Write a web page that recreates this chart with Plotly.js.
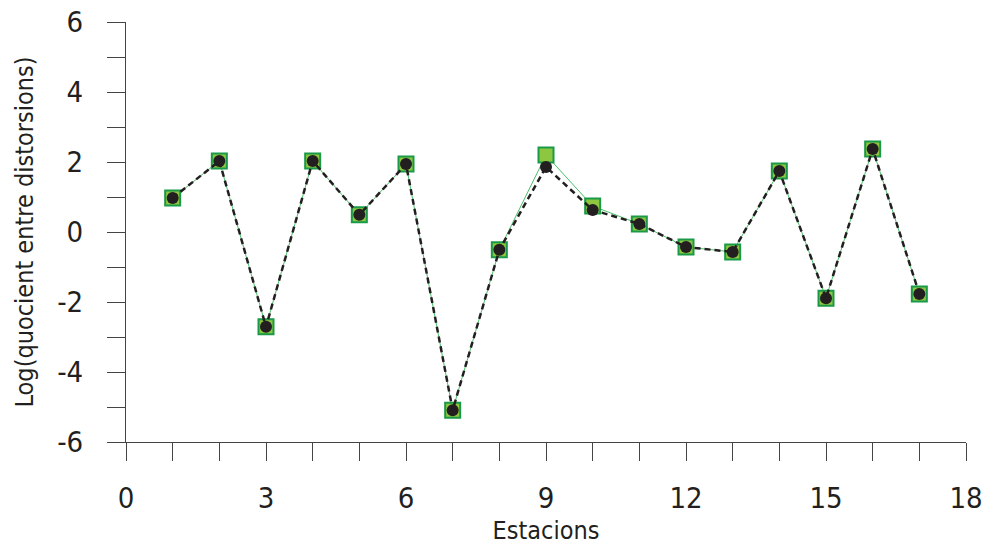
<!DOCTYPE html>
<html><head><meta charset="utf-8">
<script src="https://cdn.plot.ly/plotly-3.0.1.min.js"></script>
<style>html,body{margin:0;padding:0;background:#fff}#chart{width:985px;height:545px}</style>
</head><body><div id="chart"></div>
<script>
var estacions = [1,2,3,4,5,6,7,8,9,10,11,12,13,14,15,16,17];
var serieVerda = [0.97,2.03,-2.71,2.03,0.49,1.94,-5.09,-0.51,2.2,0.74,0.23,-0.43,-0.57,1.74,-1.89,2.37,-1.77];
var serieNegra = [0.97,2.03,-2.71,2.03,0.49,1.94,-5.09,-0.51,1.86,0.63,0.23,-0.43,-0.57,1.74,-1.89,2.37,-1.77];
var yTicks = [-6,-5,-4,-3,-2,-1,0,1,2,3,4,5,6];
var yLabels = ['-6','','-4','','-2','','0','','2','','4','','6'];
var xTicks = [0,1,2,3,4,5,6,7,8,9,10,11,12,13,14,15,16,17,18];
var xLabels = ['0','','','3','','','6','','','9','','','12','','','15','','','18'];

var fam = 'DejaVu Sans Condensed, DejaVu Sans, Verdana, sans-serif';
var traces = [
  {x: estacions, y: serieVerda, type:'scatter', mode:'lines+markers',
   line:{color:'#4cbf6a', width:1},
   marker:{symbol:'square', size:15, color:'#8dc63f', line:{color:'#1a9a48', width:2}}},
  {x: estacions, y: serieNegra, type:'scatter', mode:'lines+markers',
   line:{color:'#231f20', width:2.5, dash:'6px,4px'},
   marker:{symbol:'circle', size:12, color:'#231f20'}}
];
var axisFont = {family:fam, size:29, color:'#231f20'};
var titleFont = {family:fam, size:25, color:'#231f20'};
var layout = {
  width:985, height:545,
  margin:{l:126, r:19, t:22, b:103},
  paper_bgcolor:'#fff', plot_bgcolor:'#fff',
  showlegend:false,
  xaxis:{range:[0,18], tickmode:'array', tickvals:xTicks, ticktext:xLabels,
    ticks:'outside', ticklen:18, tickcolor:'#444', tickwidth:1,
    showline:true, linecolor:'#444', linewidth:1, showgrid:false, zeroline:false,
    tickfont:axisFont, ticklabelstandoff:12,
    title:{text:'Estacions', font:titleFont, standoff:8}},
  yaxis:{range:[-6,6], tickmode:'array', tickvals:yTicks, ticktext:yLabels,
    ticks:'outside', ticklen:18, tickcolor:'#444', tickwidth:1,
    showline:true, linecolor:'#444', linewidth:1, showgrid:false, zeroline:false,
    tickfont:axisFont, ticklabelstandoff:18,
    title:{text:'Log(quocient entre distorsions)', font:titleFont, standoff:16}}
};
Plotly.newPlot('chart', traces, layout, {displayModeBar:false, staticPlot:true});
</script></body></html>
